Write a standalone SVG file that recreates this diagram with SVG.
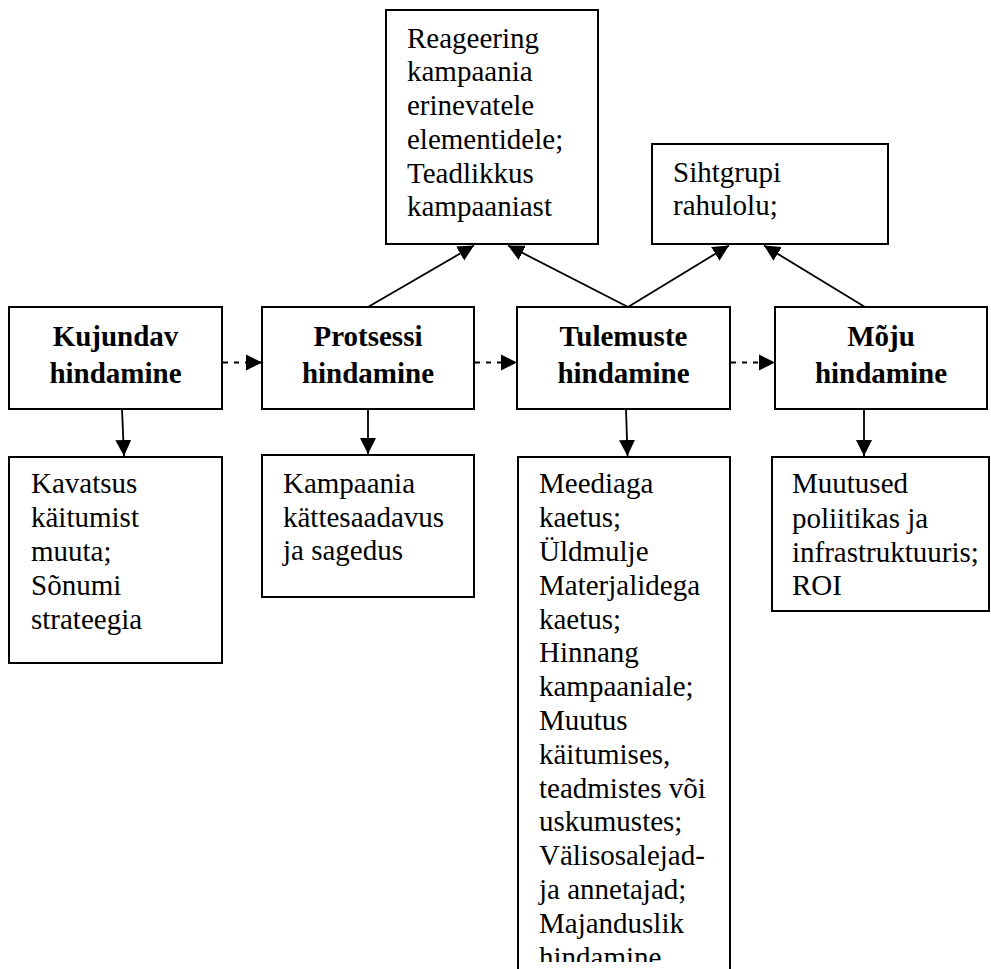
<svg xmlns="http://www.w3.org/2000/svg" width="991" height="969" viewBox="0 0 991 969">
  <style>
    .box { fill: #ffffff; stroke: #000000; stroke-width: 2; }
    .side { fill: none; stroke: #000000; stroke-width: 2; }
    .txt { font-family: "Liberation Serif", "Times New Roman", serif; font-size: 29px; fill: #000000; }
    .head { font-family: "Liberation Serif", "Times New Roman", serif; font-size: 29px; font-weight: bold; fill: #000000; text-anchor: middle; }
    .link { fill: none; stroke: #000000; stroke-width: 1.8; }
    .dash { stroke-dasharray: 5 6; }
  </style>
  <defs>
    <marker id="arrow" markerUnits="userSpaceOnUse" markerWidth="17" markerHeight="17" viewBox="0 0 17 17" refX="16" refY="8.5" orient="auto">
      <path d="M0,0.5 L16,8.5 L0,16.5 Z" fill="#000000"/>
    </marker>
    <clipPath id="clipTall">
      <rect x="517" y="456" width="214" height="506"/>
    </clipPath>
  </defs>

  <rect width="991" height="969" fill="#ffffff"/>

  <!-- connectors -->
  <g id="connectors">
    <!-- dashed flow between the stages -->
    <line class="link dash" x1="223" y1="362.5" x2="262" y2="362.5" marker-end="url(#arrow)"/>
    <line class="link dash" x1="475" y1="362.5" x2="517" y2="362.5" marker-end="url(#arrow)"/>
    <line class="link dash" x1="731" y1="362.5" x2="775" y2="362.5" marker-end="url(#arrow)"/>
    <!-- stage to measures below -->
    <line class="link" x1="122" y1="409" x2="124" y2="456" marker-end="url(#arrow)"/>
    <line class="link" x1="368" y1="409" x2="368" y2="454" marker-end="url(#arrow)"/>
    <line class="link" x1="626" y1="409" x2="627.5" y2="456" marker-end="url(#arrow)"/>
    <line class="link" x1="864" y1="409" x2="864" y2="456" marker-end="url(#arrow)"/>
    <!-- stage to measures above -->
    <line class="link" x1="368" y1="307" x2="474" y2="245.5" marker-end="url(#arrow)"/>
    <line class="link" x1="628" y1="307" x2="508" y2="245.5" marker-end="url(#arrow)"/>
    <line class="link" x1="628" y1="307" x2="729" y2="245.5" marker-end="url(#arrow)"/>
    <line class="link" x1="865" y1="307" x2="764" y2="245.5" marker-end="url(#arrow)"/>
  </g>

  <!-- upper measure boxes -->
  <g id="reageering">
    <rect class="box" x="386" y="10" width="212" height="234"/>
    <text class="txt" x="407" y="47.5">Reageering</text>
    <text class="txt" x="407" y="81.3">kampaania</text>
    <text class="txt" x="407" y="115">erinevatele</text>
    <text class="txt" x="407" y="149">elementidele;</text>
    <text class="txt" x="407" y="183">Teadlikkus</text>
    <text class="txt" x="407" y="216">kampaaniast</text>
  </g>
  <g id="sihtgrupi">
    <rect class="box" x="652" y="144" width="236" height="100"/>
    <text class="txt" x="673" y="182">Sihtgrupi</text>
    <text class="txt" x="673" y="215">rahulolu;</text>
  </g>

  <!-- evaluation stages -->
  <g id="kujundav">
    <rect class="box" x="9" y="307" width="213" height="102"/>
    <text class="head" x="115.5" y="345.5">Kujundav</text>
    <text class="head" x="115.5" y="383.3">hindamine</text>
  </g>
  <g id="protsessi">
    <rect class="box" x="262" y="307" width="212" height="102"/>
    <text class="head" x="368" y="345.5">Protsessi</text>
    <text class="head" x="368" y="383.3">hindamine</text>
  </g>
  <g id="tulemuste">
    <rect class="box" x="517" y="307" width="213" height="102"/>
    <text class="head" x="623.5" y="345.5">Tulemuste</text>
    <text class="head" x="623.5" y="383.3">hindamine</text>
  </g>
  <g id="moju">
    <rect class="box" x="775" y="307" width="212" height="102"/>
    <text class="head" x="881" y="345.5">Mõju</text>
    <text class="head" x="881" y="383.3">hindamine</text>
  </g>

  <!-- lower measure boxes -->
  <g id="kavatsus">
    <rect class="box" x="9" y="457" width="213" height="206"/>
    <text class="txt" x="31" y="493">Kavatsus</text>
    <text class="txt" x="31" y="527">käitumist</text>
    <text class="txt" x="31" y="561">muuta;</text>
    <text class="txt" x="31" y="595">Sõnumi</text>
    <text class="txt" x="31" y="629">strateegia</text>
  </g>
  <g id="kattesaadavus">
    <rect class="box" x="262" y="455" width="212" height="142"/>
    <text class="txt" x="283" y="493">Kampaania</text>
    <text class="txt" x="283" y="527">kättesaadavus</text>
    <text class="txt" x="283" y="560">ja sagedus</text>
  </g>
  <g id="meediaga">
    <path class="side" d="M518,969 L518,457 L730,457 L730,969"/>
    <g clip-path="url(#clipTall)">
      <text class="txt" x="539" y="493">Meediaga</text>
      <text class="txt" x="539" y="527">kaetus;</text>
      <text class="txt" x="539" y="561">Üldmulje</text>
      <text class="txt" x="539" y="595">Materjalidega</text>
      <text class="txt" x="539" y="629">kaetus;</text>
      <text class="txt" x="539" y="662">Hinnang</text>
      <text class="txt" x="539" y="696">kampaaniale;</text>
      <text class="txt" x="539" y="730">Muutus</text>
      <text class="txt" x="539" y="764">käitumises,</text>
      <text class="txt" x="539" y="798">teadmistes või</text>
      <text class="txt" x="539" y="831">uskumustes;</text>
      <text class="txt" x="539" y="865">Välisosalejad-</text>
      <text class="txt" x="539" y="899">ja annetajad;</text>
      <text class="txt" x="539" y="933">Majanduslik</text>
      <text class="txt" x="539" y="967">hindamine</text>
    </g>
  </g>
  <g id="muutused">
    <rect class="box" x="772" y="457" width="217" height="154"/>
    <text class="txt" x="792" y="493">Muutused</text>
    <text class="txt" x="792" y="528">poliitikas ja</text>
    <text class="txt" x="792" y="562">infrastruktuuris;</text>
    <text class="txt" x="792" y="595">ROI</text>
  </g>
</svg>
